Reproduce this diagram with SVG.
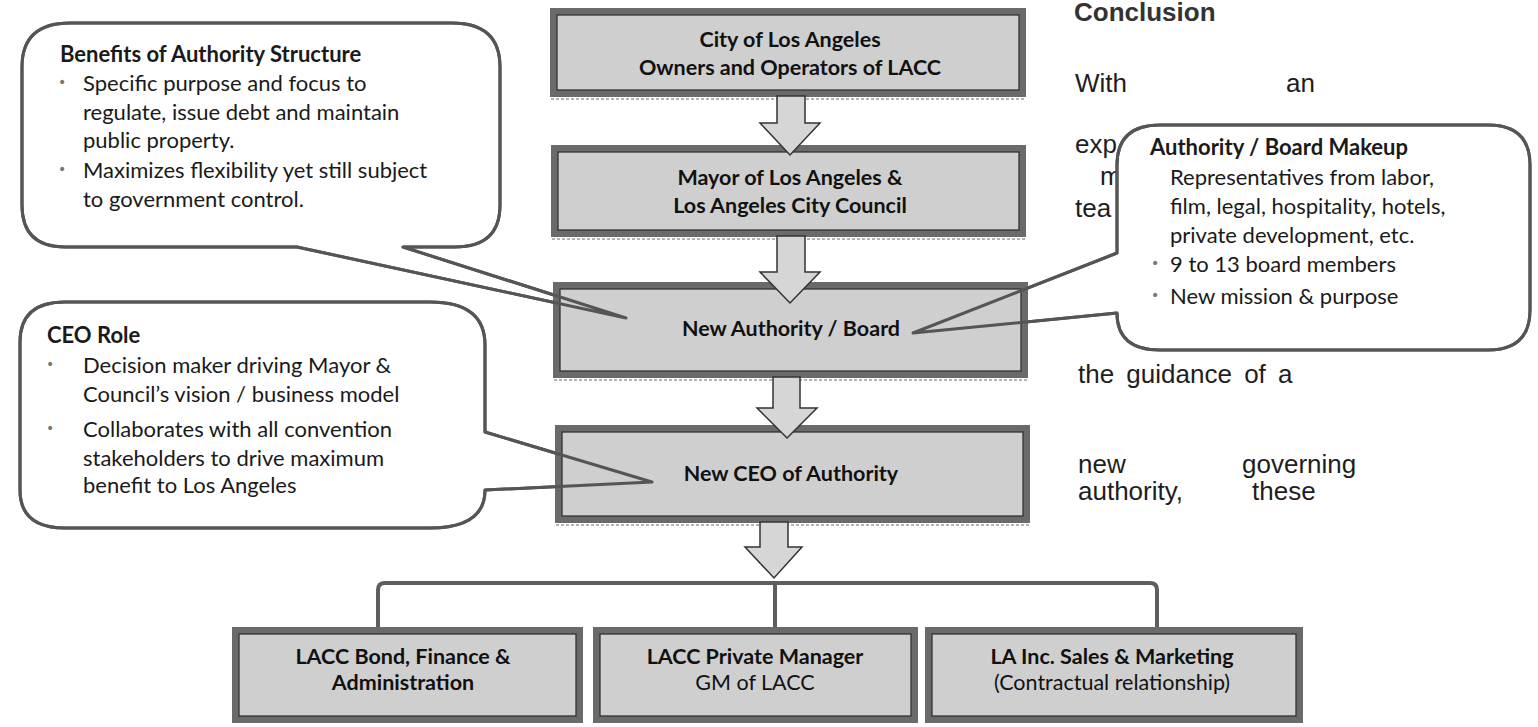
<svg xmlns="http://www.w3.org/2000/svg" xmlns:xlink="http://www.w3.org/1999/xlink" width="1538" height="727" viewBox="0 0 1538 727">
  <style>
    .prose { font-family: "Liberation Sans", Arial, sans-serif; font-size: 26px; fill: #1e1e1e; }
    .prose-head { font-weight: bold; fill: #333; }
    .frame { fill: #cfcfcf; stroke: #6a6a6a; stroke-width: 7; }
    .frame-inner { fill: none; stroke: #333; stroke-width: 1.3; }
    .frame-shadow { fill: none; stroke: #b4b4b4; stroke-width: 2; stroke-dasharray: 3 2; }
    .box-label { font-family: Lato, "Liberation Sans", sans-serif; font-size: 21.5px; font-weight: bold; fill: #111; text-anchor: middle; }
    .box-sub { font-weight: normal; }
    .callout-fill { fill: #fff; stroke: #555; stroke-width: 3; stroke-linejoin: round; }
    .callout-edge { fill: none; stroke: #555; stroke-width: 3; stroke-linejoin: round; }
    .note { font-family: Lato, "Liberation Sans", sans-serif; font-size: 22px; fill: #1a1a1a; }
    .note-title { font-size: 22px; font-weight: bold; }
    .bullet { font-family: "DejaVu Sans", sans-serif; font-size: 14px; fill: #777; }
    .block-arrow { fill: #d6d6d6; stroke: #333; stroke-width: 1.5; stroke-linejoin: miter; }
    .bracket { fill: none; stroke: #5e5e5e; stroke-width: 4; }
  </style>
  <defs>
    <path id="shape-benefits" d="M22,67 Q22,23 70,23 L452,23 Q500,23 500,67 L500,205 Q500,247 455,247 L403,247 L626,318 L297,247 L65,247 Q22,247 22,205 Z"/>
    <path id="shape-ceo" d="M20,342 Q20,302 65,302 L430,302 Q485,302 485,345 L485,432 L652,482 L485,490 Q485,528 430,528 L65,528 Q20,528 20,490 Z"/>
    <path id="shape-board" d="M1117,165 Q1117,125 1160,125 L1488,125 Q1530,125 1530,165 L1530,310 Q1530,350 1488,350 L1160,350 Q1117,350 1117,313 L913,333 L1117,253 Z"/>
  </defs>

  <!-- running prose on the right -->
  <g id="prose">
    <text class="prose prose-head" x="1074" y="21">Conclusion</text>
    <text class="prose" x="1075" y="92">With</text>
    <text class="prose" x="1286" y="92">an</text>
    <text class="prose" x="1075" y="153">exp</text>
    <text class="prose" x="1100" y="185">m</text>
    <text class="prose" x="1075" y="217">tea</text>
    <text class="prose" x="1078" y="383" word-spacing="5">the guidance of a</text>
    <text class="prose" x="1078" y="473">new</text>
    <text class="prose" x="1242" y="473">governing</text>
    <text class="prose" x="1078" y="500">authority,</text>
    <text class="prose" x="1252" y="500">these</text>
  </g>

  <!-- callout: benefits -->
  <g id="callout-benefits">
    <use href="#shape-benefits" class="callout-fill"/>
    <text class="note note-title" x="60" y="62">Benefits of Authority Structure</text>
    <text class="bullet" x="58" y="87">•</text>
    <text class="note" x="83" y="91">Specific purpose and focus to</text>
    <text class="note" x="83" y="120">regulate, issue debt and maintain</text>
    <text class="note" x="83" y="148">public property.</text>
    <text class="bullet" x="58" y="174">•</text>
    <text class="note" x="83" y="178">Maximizes flexibility yet still subject</text>
    <text class="note" x="83" y="207">to government control.</text>
  </g>

  <!-- callout: CEO role -->
  <g id="callout-ceo">
    <use href="#shape-ceo" class="callout-fill"/>
    <text class="note note-title" x="47" y="343">CEO Role</text>
    <text class="bullet" x="46" y="369">•</text>
    <text class="note" x="83" y="373">Decision maker driving Mayor &amp;</text>
    <text class="note" x="83" y="402">Council’s vision / business model</text>
    <text class="bullet" x="46" y="433">•</text>
    <text class="note" x="83" y="437">Collaborates with all convention</text>
    <text class="note" x="83" y="466">stakeholders to drive maximum</text>
    <text class="note" x="83" y="493">benefit to Los Angeles</text>
  </g>

  <!-- callout: board makeup -->
  <g id="callout-board">
    <use href="#shape-board" class="callout-fill"/>
    <text class="note note-title" x="1150" y="155">Authority / Board Makeup</text>
    <text class="note" x="1170" y="185">Representatives from labor,</text>
    <text class="note" x="1170" y="214">film, legal, hospitality, hotels,</text>
    <text class="note" x="1170" y="243">private development, etc.</text>
    <text class="bullet" x="1151" y="268">•</text>
    <text class="note" x="1170" y="272">9 to 13 board members</text>
    <text class="bullet" x="1151" y="300">•</text>
    <text class="note" x="1170" y="304">New mission &amp; purpose</text>
  </g>

  <!-- organisation boxes -->
  <g id="box-city">
    <rect class="frame" x="553.5" y="11.5" width="469" height="82"/>
    <rect class="frame-inner" x="557" y="15" width="462" height="75"/>
    <line class="frame-shadow" x1="551" y1="99" x2="1026" y2="99"/>
    <text class="box-label" x="790" y="47">City of Los Angeles</text>
    <text class="box-label" x="790" y="75">Owners and Operators of LACC</text>
  </g>
  <g id="box-mayor">
    <rect class="frame" x="554.5" y="148.5" width="468" height="85"/>
    <rect class="frame-inner" x="558" y="152" width="461" height="78"/>
    <line class="frame-shadow" x1="552" y1="239" x2="1026" y2="239"/>
    <text class="box-label" x="790" y="185">Mayor of Los Angeles &amp;</text>
    <text class="box-label" x="790" y="213">Los Angeles City Council</text>
  </g>
  <g id="box-authority">
    <rect class="frame" x="556.5" y="285.5" width="468" height="89"/>
    <rect class="frame-inner" x="560" y="289" width="461" height="82"/>
    <line class="frame-shadow" x1="554" y1="380" x2="1028" y2="380"/>
    <text class="box-label" x="791" y="336">New Authority / Board</text>
  </g>
  <g id="box-ceo">
    <rect class="frame" x="558.5" y="428.5" width="468" height="91"/>
    <rect class="frame-inner" x="562" y="432" width="461" height="84"/>
    <line class="frame-shadow" x1="556" y1="525" x2="1030" y2="525"/>
    <text class="box-label" x="791" y="481">New CEO of Authority</text>
  </g>
  <g id="box-finance">
    <rect class="frame" x="235.5" y="630.5" width="344" height="89"/>
    <rect class="frame-inner" x="239" y="634" width="337" height="82"/>
    <text class="box-label" x="403" y="664">LACC Bond, Finance &amp;</text>
    <text class="box-label" x="403" y="690">Administration</text>
  </g>
  <g id="box-manager">
    <rect class="frame" x="596.5" y="630.5" width="318" height="89"/>
    <rect class="frame-inner" x="600" y="634" width="311" height="82"/>
    <text class="box-label" x="755" y="664">LACC Private Manager</text>
    <text class="box-label box-sub" x="755" y="690">GM of LACC</text>
  </g>
  <g id="box-sales">
    <rect class="frame" x="928.5" y="630.5" width="371" height="89"/>
    <rect class="frame-inner" x="932" y="634" width="364" height="82"/>
    <text class="box-label" x="1112" y="664">LA Inc. Sales &amp; Marketing</text>
    <text class="box-label box-sub" x="1112" y="690">(Contractual relationship)</text>
  </g>

  <!-- connectors: block arrows and the branch bracket -->
  <g id="connectors">
    <polygon class="block-arrow" points="777,96 805,96 805,123 820,123 790,155 760,123 777,123"/>
    <polygon class="block-arrow" points="777,236 805,236 805,272 820,272 790,303 760,272 777,272"/>
    <polygon class="block-arrow" points="773,377 800,377 800,408 817,408 787,438 757,408 773,408"/>
    <polygon class="block-arrow" points="760,522 788,522 788,547 802,547 774,578 745,547 760,547"/>
    <path class="bracket" d="M378,627 V590 Q378,583 385,583 H1150 Q1157,583 1157,590 V627 M775,583 V627"/>
  </g>

  <!-- callout pointers drawn over the boxes -->
  <g id="callout-pointers">
    <use href="#shape-benefits" class="callout-edge"/>
    <use href="#shape-ceo" class="callout-edge"/>
    <use href="#shape-board" class="callout-edge"/>
  </g>
</svg>
